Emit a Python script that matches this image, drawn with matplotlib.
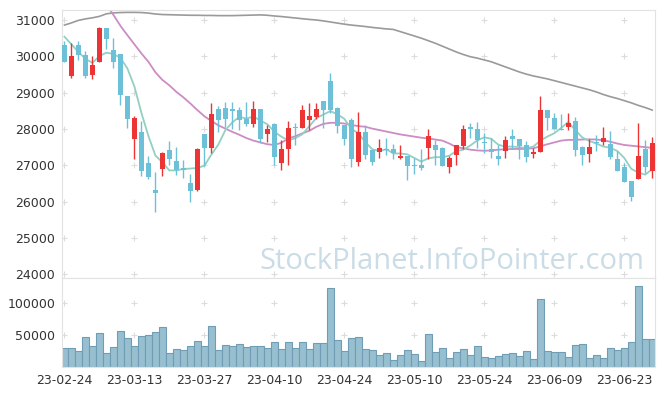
import numpy as np
import matplotlib.pyplot as plt

# daily candles, 23-02-24 .. 23-06-29 (85 trading days)
opens = [30300, 29450, 30300, 30050, 29480, 29850, 30780, 30170, 30060, 28900,
         27720, 27920, 27070, 26320, 26900, 27420, 27110, 26920, 26500, 26320,
         27860, 27490, 28550, 28590, 28550, 28520, 28270, 28140, 28550, 27850,
         28150, 27060, 27440, 28060, 28040, 28250, 28340, 28770, 29320, 28590,
         28110, 28250, 27100, 27920, 27420, 27360, 27450, 27450, 27190, 27250,
         27010, 27010, 27490, 27560, 27490, 26940, 27290, 27530, 28050, 27990,
         27625, 27450, 27260, 27400, 27800, 27720, 27560, 27300, 27360, 28520,
         28310, 28000, 28050, 28220, 27510, 27300, 27650, 27650, 27600, 27170,
         26940, 26570, 26620, 27450, 26850]
highs = [30420, 30360, 30420, 30150, 30000, 30800, 30780, 30500, 30060, 28900,
         28360, 28220, 27250, 26810, 27370, 27670, 27500, 27150, 26750, 27470,
         27860, 28710, 28620, 28730, 28750, 28600, 28750, 28760, 28550, 28110,
         28160, 27700, 28230, 28160, 28650, 28710, 28710, 28770, 29550, 28600,
         28110, 28300, 28460, 28100, 27420, 27720, 27740, 27590, 27560, 27260,
         27200, 27440, 27990, 27700, 27500, 27260, 27560, 28110, 28160, 28200,
         27900, 27740, 27560, 27800, 28000, 27730, 27670, 27480, 28910, 28520,
         28430, 28400, 28440, 28330, 27520, 27720, 27830, 28060, 27950, 27400,
         27050, 26570, 28160, 27700, 27790]
lows = [29830, 29400, 29900, 29400, 29370, 29850, 30200, 29690, 28660, 28020,
        27170, 26710, 26620, 25710, 26700, 27010, 26730, 26640, 26000, 26300,
        26980, 27350, 27930, 28060, 28000, 27970, 28070, 28060, 27620, 27650,
        27010, 26870, 27010, 27560, 28040, 27970, 28280, 28020, 28450, 27900,
        27560, 26950, 26980, 27170, 27010, 27190, 27280, 27170, 27180, 26600,
        26750, 26880, 27170, 27000, 26980, 26800, 27010, 27460, 27750, 27470,
        27350, 27200, 27010, 27200, 27450, 27180, 27100, 27200, 27360, 27970,
        27990, 27970, 27970, 27260, 27010, 27100, 27400, 27550, 27170, 26850,
        26550, 26030, 26620, 26800, 26640]
closes = [29850, 30000, 30050, 29450, 29750, 30780, 30480, 29850, 28940, 28280,
          28290, 26850, 26670, 26250, 27350, 27170, 26870, 26860, 26300, 27440,
          27470, 28410, 28250, 28280, 28500, 28250, 28140, 28550, 27720, 27990,
          27240, 27440, 28040, 28030, 28520, 28360, 28550, 28520, 28510, 28090,
          27730, 27170, 27920, 27280, 27100, 27490, 27420, 27350, 27260, 26990,
          26990, 26920, 27800, 27420, 26990, 27190, 27560, 27990, 27990, 27700,
          27610, 27360, 27180, 27710, 27720, 27530, 27240, 27370, 28520, 28290,
          27990, 27980, 28170, 27420, 27280, 27510, 27620, 27760, 27240, 26850,
          26550, 26120, 27250, 26940, 27620]
volumes = [29700, 29700, 25000, 46500, 32700, 52600, 22000, 31200, 55600, 45000,
           32700, 48000, 49500, 54100, 61800, 22000, 28100, 26600, 32700, 40400,
           32700, 63300, 26600, 34200, 32700, 35800, 31200, 32700, 32700, 29700,
           38800, 28100, 38800, 29700, 38800, 28100, 37300, 37300, 122900, 41900,
           25000, 45000, 46500, 28100, 26600, 19000, 22000, 11300, 19000, 26600,
           20500, 9800, 51100, 23500, 29700, 14400, 23500, 28100, 19000, 32700,
           15900, 14400, 17400, 20500, 22000, 17400, 25000, 12800, 106100, 25000,
           23500, 23500, 15900, 34200, 35800, 14400, 19000, 14400, 29700, 26600,
           29700, 38800, 126000, 43400, 43400]

# moving averages as drawn
ma5 = [30540, 30330, 30120, 29930, 29820, 30006, 30102, 30062, 29960, 29666,
       29168, 28442, 27806, 27268, 27082, 26858, 26862, 26900, 26910, 26928,
       26988, 27296, 27574, 27970, 28182, 28338, 28284, 28344, 28232, 28130,
       27928, 27788, 27686, 27748, 27854, 28078, 28300, 28396, 28492, 28406,
       28280, 28004, 27884, 27638, 27440, 27392, 27442, 27328, 27324, 27302,
       27202, 27102, 27192, 27224, 27224, 27264, 27392, 27430, 27544, 27686,
       27770, 27730, 27568, 27512, 27516, 27500, 27476, 27514, 27676, 27790,
       27882, 28030, 28190, 27970, 27768, 27672, 27600, 27518, 27482, 27396,
       27204, 26904, 26802, 26742, 26896]
ma20 = [np.nan, np.nan, np.nan, np.nan, np.nan, np.nan, 31420, 31140, 30840, 30580,
        30330, 30080, 29850, 29560, 29350, 29200, 29020, 28870, 28700, 28520,
        28350, 28220, 28100, 28010, 27920, 27840, 27750, 27680, 27630, 27580,
        27560, 27620, 27740, 27800, 27880, 27950, 28060, 28140, 28170, 28170,
        28150, 28110, 28080, 28060, 28010, 27970, 27930, 27890, 27850, 27820,
        27790, 27760, 27740, 27710, 27680, 27600, 27500, 27470, 27430, 27410,
        27400, 27410, 27430, 27440, 27450, 27450, 27455, 27470, 27520, 27580,
        27630, 27680, 27700, 27700, 27710, 27715, 27710, 27690, 27650, 27600,
        27560, 27540, 27520, 27500, 27480]
ma60 = [30860, 30920, 30990, 31030, 31060, 31100, 31170, 31195, 31205, 31210,
        31210, 31205, 31190, 31165, 31150, 31145, 31140, 31135, 31130, 31130,
        31125, 31125, 31120, 31120, 31120, 31125, 31130, 31135, 31140, 31130,
        31110, 31095, 31075, 31055, 31035, 31015, 31000, 30975, 30945, 30915,
        30885, 30860, 30840, 30820, 30795, 30775, 30755, 30740, 30680, 30620,
        30560, 30500, 30430, 30360, 30280, 30200, 30120, 30050, 29990, 29950,
        29900, 29850, 29780, 29710, 29640, 29570, 29510, 29460, 29420, 29380,
        29330, 29280, 29230, 29180, 29130, 29080, 29020, 28950, 28890, 28840,
        28780, 28720, 28650, 28590, 28520]

tick_idx = [0, 10, 20, 30, 40, 50, 60, 70, 80]
tick_labels = ['23-02-24', '23-03-13', '23-03-27', '23-04-10', '23-04-24',
               '23-05-10', '23-05-24', '23-06-09', '23-06-23']
price_ticks = [24000, 25000, 26000, 27000, 28000, 29000, 30000, 31000]
vol_ticks = [50000, 100000]

UP = '#ec3434'
DOWN = '#6cc1d9'
FRAME = '#e2e2e2'

o = np.array(opens); h = np.array(highs); l = np.array(lows); c = np.array(closes)
x = np.arange(len(c))
col = np.where(c > o, UP, DOWN)

fig = plt.figure(figsize=(6.65, 3.96), dpi=100)
ax = fig.add_axes([62/665, 1-278/396, 593/665, 268/396])
axv = fig.add_axes([62/665, 1-367/396, 593/665, 89/396], sharex=ax)

# grid crosses
gx, gy = np.meshgrid(tick_idx, price_ticks)
ax.plot(gx.ravel(), gy.ravel(), '+', color='#dcdcdc', ms=5, mew=0.8, zorder=0)
gx, gy = np.meshgrid(tick_idx, vol_ticks)
axv.plot(gx.ravel(), gy.ravel(), '+', color='#dcdcdc', ms=5, mew=0.8, zorder=0)

# moving averages
ax.plot(x, ma60, color='#9a9a9a', lw=1.2, zorder=1)
ax.plot(x, ma20, color='#cc8cc4', lw=1.3, zorder=1)
ax.plot(x, ma5, color='#92d0c3', lw=1.3, zorder=1)

# candles
ax.vlines(x, l, h, colors=col, lw=1, zorder=2)
body = np.maximum(np.abs(c - o), 25)
ax.bar(x, body, bottom=np.minimum(o, c), width=0.7, color=col, zorder=3)

ax.text(0.983, 0.035, 'StockPlanet.InfoPointer.com', transform=ax.transAxes,
        ha='right', va='baseline', fontsize=21, color='#cadce6',
        family='Open Sans', zorder=4)

ax.set_ylim(23898, 31275)
ax.set_yticks(price_ticks)
ax.set_xlim(-0.35, 84.4)
ax.tick_params(axis='x', labelbottom=False, length=0)

# volume
axv.bar(x, volumes, width=1.0, color='#97bfcf', edgecolor='#6f9db5', lw=0.8)
axv.set_ylim(0, 139000)
axv.set_yticks(vol_ticks)
axv.set_xticks(tick_idx)
axv.set_xticklabels(tick_labels)

for a in (ax, axv):
    a.tick_params(axis='both', length=0, labelsize=9, colors='#333333', pad=5)
    for s in a.spines.values():
        s.set_color(FRAME)

plt.savefig('out.png', dpi=100)
